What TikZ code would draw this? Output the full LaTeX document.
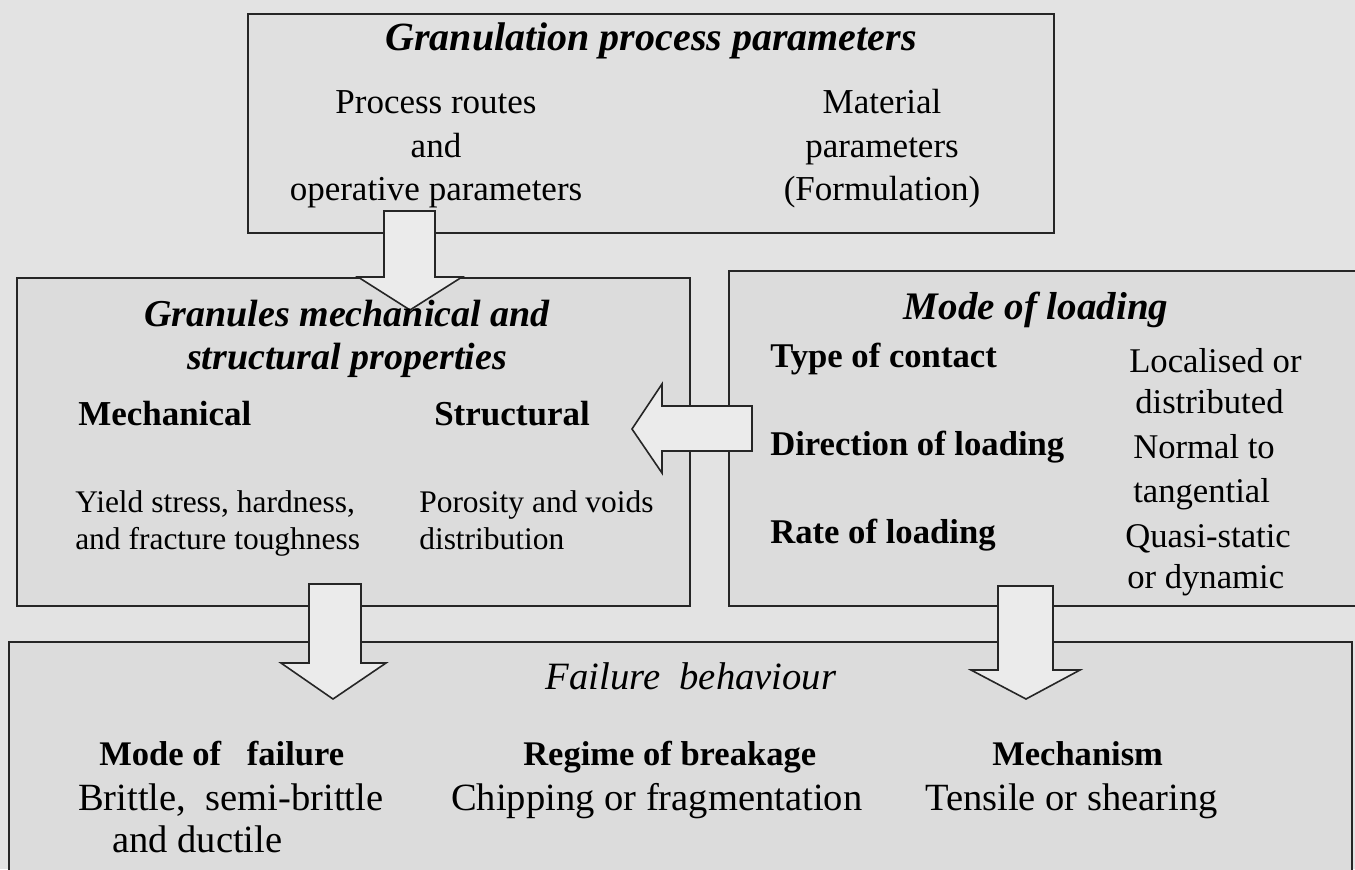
\documentclass[tikz,border=0pt]{standalone}
\usepackage{fontspec}
\setmainfont{Liberation Serif}
\usetikzlibrary{positioning}

\definecolor{pagegray}{HTML}{E3E3E3}
\definecolor{boxgray}{HTML}{DCDCDC}
\definecolor{topgray}{HTML}{E0E0E0}
\definecolor{arrowgray}{HTML}{EBEBEB}

\tikzset{
  panel/.style={draw=black!85, line width=1.4pt, fill=boxgray, inner sep=0pt},
  blockarrow/.style={draw=black!85, line width=1.2pt, fill=arrowgray, line join=miter},
  boxtitle/.style={anchor=base, inner sep=0pt, font=\fontsize{28.5pt}{34pt}\selectfont\bfseries\itshape},
  bodytext/.style={anchor=base, inner sep=0pt, font=\fontsize{26.25pt}{31pt}\selectfont},
  boldlabel/.style={anchor=base west, inner sep=0pt, font=\fontsize{26pt}{31pt}\selectfont\bfseries},
  smalltext/.style={anchor=base west, inner sep=0pt, font=\fontsize{23.6pt}{28pt}\selectfont},
  bigtext/.style={anchor=base west, inner sep=0pt, font=\fontsize{28.9pt}{34pt}\selectfont}
}

\begin{document}
\begin{tikzpicture}[x=0.75pt, y=-0.75pt]
    \useasboundingbox (0,0) rectangle (1355,869);
    \fill[pagegray] (0,0) rectangle (1355,869);

    % boxes
    \node[panel, fill=topgray, minimum width=604.5pt, minimum height=164.25pt] (process) at (651,123.5) {};
    \node[panel, minimum width=504.75pt, minimum height=246pt] (granules) at (353.5,442) {};
    \node[panel, minimum width=477pt, minimum height=251.25pt] (loading) at (1047,438.5) {};
    \node[panel, minimum width=1007.25pt, minimum height=182.25pt] (failure) at (680.5,763.5) {};

    % block arrows
    \draw[blockarrow] (384,211) -- (435,211) -- (435,277) -- (462,277) -- (410,310) -- (358,277) -- (384,277) -- cycle;
    \draw[blockarrow] (752,406) -- (752,451) -- (662,451) -- (662,473) -- (632,429) -- (662,384) -- (662,406) -- cycle;
    \draw[blockarrow] (309,584) -- (361,584) -- (361,663) -- (386,663) -- (333,699) -- (281,663) -- (309,663) -- cycle;
    \draw[blockarrow] (998,586) -- (1053,586) -- (1053,670) -- (1080,670) -- (1026,699) -- (971,670) -- (998,670) -- cycle;

    % granulation process parameters
    \node[boxtitle, font=\fontsize{30pt}{36pt}\selectfont\bfseries\itshape] (processtitle) at (651,50) {Granulation process parameters};
    \node[bodytext] (routes1) at (436,113) {Process routes};
    \node[bodytext] (routes2) at (436,157) {and};
    \node[bodytext] (routes3) at (436,200) {operative parameters};
    \node[bodytext] (material1) at (882,113) {Material};
    \node[bodytext] (material2) at (882,157) {parameters};
    \node[bodytext] (material3) at (882,200) {(Formulation)};

    % granules properties
    \node[boxtitle] (granulestitle1) at (347,326) {Granules mechanical and};
    \node[boxtitle] (granulestitle2) at (347,369) {structural properties};
    \node[boldlabel, font=\fontsize{26.25pt}{31pt}\selectfont\bfseries] (mech) at (78,425) {Mechanical};
    \node[boldlabel, font=\fontsize{26.25pt}{31pt}\selectfont\bfseries] (struct) at (434,425) {Structural};
    \node[smalltext] (mech1) at (75,512) {Yield stress, hardness,};
    \node[smalltext] (mech2) at (75,549) {and fracture toughness};
    \node[smalltext] (struct1) at (419,512) {Porosity and voids};
    \node[smalltext] (struct2) at (419,549) {distribution};

    % mode of loading
    \node[boxtitle, font=\fontsize{29.25pt}{35pt}\selectfont\bfseries\itshape] (loadingtitle) at (1036,319) {Mode of loading};
    \node[boldlabel] (contact) at (770,367) {Type of contact};
    \node[boldlabel] (direction) at (770,455) {Direction of loading};
    \node[boldlabel] (rate) at (770,543) {Rate of loading};
    \node[bodytext, anchor=base west, font=\fontsize{26pt}{31pt}\selectfont] (contact1) at (1129,372) {Localised or};
    \node[bodytext, anchor=base west, font=\fontsize{26pt}{31pt}\selectfont] (contact2) at (1135,413) {distributed};
    \node[bodytext, anchor=base west, font=\fontsize{26pt}{31pt}\selectfont] (direction1) at (1133,458) {Normal to};
    \node[bodytext, anchor=base west, font=\fontsize{26pt}{31pt}\selectfont] (direction2) at (1133,502) {tangential};
    \node[bodytext, anchor=base west, font=\fontsize{26pt}{31pt}\selectfont] (rate1) at (1125,547) {Quasi-static};
    \node[bodytext, anchor=base west, font=\fontsize{26pt}{31pt}\selectfont] (rate2) at (1127,588) {or dynamic};

    % failure behaviour
    \node[boxtitle, font=\fontsize{29pt}{35pt}\selectfont\itshape] (failuretitle) at (691,689) {Failure~ behaviour};
    \node[boldlabel, font=\fontsize{25.9pt}{31pt}\selectfont\bfseries] (modefail) at (99,765) {Mode of~~ failure};
    \node[bigtext] (modefail1) at (78,810) {Brittle,~ semi-brittle};
    \node[bigtext] (modefail2) at (112,852) {and ductile};
    \node[boldlabel, font=\fontsize{25.9pt}{31pt}\selectfont\bfseries] (regime) at (523,765) {Regime of breakage};
    \node[bigtext] (regime1) at (451,810) {Chipping or fragmentation};
    \node[boldlabel, font=\fontsize{25.9pt}{31pt}\selectfont\bfseries] (mechanism) at (992,765) {Mechanism};
    \node[bigtext] (mechanism1) at (925,810) {Tensile or shearing};
\end{tikzpicture}
\end{document}
